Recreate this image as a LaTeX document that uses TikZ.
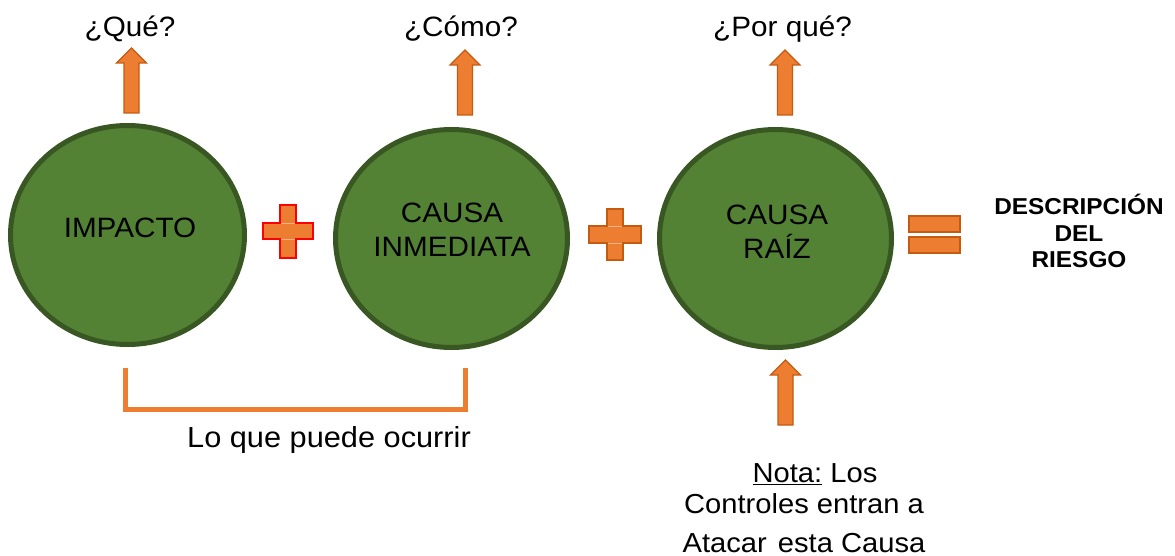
\documentclass[tikz,border=0pt]{standalone}
\usepackage{fontspec}
\setmainfont{Liberation Sans}[FakeStretch=1.06]
\usetikzlibrary{shapes.geometric}
\definecolor{org}{HTML}{ED7D31}
\definecolor{orgd}{HTML}{C55A11}
\definecolor{orgl}{HTML}{F4B183}
\definecolor{grn}{HTML}{548235}
\definecolor{grnd}{HTML}{385723}
\begin{document}
\begin{tikzpicture}[x=1pt,y=-1pt,
  bub/.style={ellipse, draw=grnd, fill=grn, line width=5pt, inner sep=0pt},
  lbl/.style={font=\fontsize{28}{34}\selectfont, inner sep=0pt, align=center},
  blk/.style={fill=org, draw=orgd, line width=1.2pt, line join=miter},
  uparrow/.pic={\path[blk] (-7.5,0) -- (-7.5,-50) -- (-15,-50) -- (0,-65) -- (15,-50) -- (7.5,-50) -- (7.5,0) -- cycle;}
]
\useasboundingbox (0,0) rectangle (1175,556);

% circles
\node[bub, minimum width=234pt, minimum height=219pt] (imp) at (127.5,235) {};
\node[bub, minimum width=232pt, minimum height=218pt] (inm) at (451.5,238.5) {};
\node[bub, minimum width=232pt, minimum height=218pt] (raiz) at (775.5,238.5) {};

% circle texts
\node[lbl, anchor=base] (t1) at (130,237) {IMPACTO};
\node[lbl, anchor=south] (t2) at (452,257) {CAUSA\\INMEDIATA};
\node[lbl, anchor=south] (t3) at (777,259) {CAUSA\\RAÍZ};

% top arrows and questions
\pic at (131.5,113) {uparrow};
\pic at (465,115) {uparrow};
\pic at (785,115) {uparrow};
\node[lbl, anchor=base] (q1) at (130,37) {¿Qué?};
\node[lbl, anchor=base] (q2) at (461,37) {¿Cómo?};
\node[lbl, anchor=base] (q3) at (782.5,37) {¿Por qué?};

% plus 1
\path[fill=org, draw=red, line width=2.2pt, line join=miter]
  (280,205) -- (296,205) -- (296,223) -- (313,223) -- (313,239) -- (296,239) -- (296,258)
  -- (280,258) -- (280,239) -- (263,239) -- (263,223) -- (280,223) -- cycle;
\draw[orgl, line width=0.8pt] (281,223) -- (295,223) (281,239) -- (295,239);
% plus 2
\path[blk]
  (607,209) -- (623,209) -- (623,226) -- (641,226) -- (641,243) -- (623,243) -- (623,260)
  -- (607,260) -- (607,243) -- (589,243) -- (589,226) -- (607,226) -- cycle;
\draw[orgl, line width=0.8pt] (608,226) -- (622,226) (608,243) -- (622,243);

% equals
\path[blk] (909,216) rectangle (960,232);
\path[blk] (909,237) rectangle (960,253);

\node[font=\bfseries\fontsize{23}{26.5}\selectfont, align=center, inner sep=0pt, anchor=south] (desc) at (1079,268) {DESCRIPCIÓN\\DEL\\RIESGO};

% bracket
\coordinate (bl) at (125.5,368);
\coordinate (br) at (465.5,368);
\draw[org, line width=5pt] (bl) -- (125.5,409.5) -- (465.5,409.5) -- (br);
\node[font=\fontsize{29}{34}\selectfont, inner sep=0pt, anchor=base] (loq) at (329,447) {Lo que puede ocurrir};

% bottom arrow and note
\pic at (785.5,425) {uparrow};
\node[font=\fontsize{27.5}{31}\selectfont, align=center, inner sep=0pt, anchor=south] (nota) at (804,553)
  {\hspace*{22pt}\underline{Nota:} Los\\Controles entran a\\[8pt]Atacar\hspace{0.4em}esta Causa};
\end{tikzpicture}
\end{document}
